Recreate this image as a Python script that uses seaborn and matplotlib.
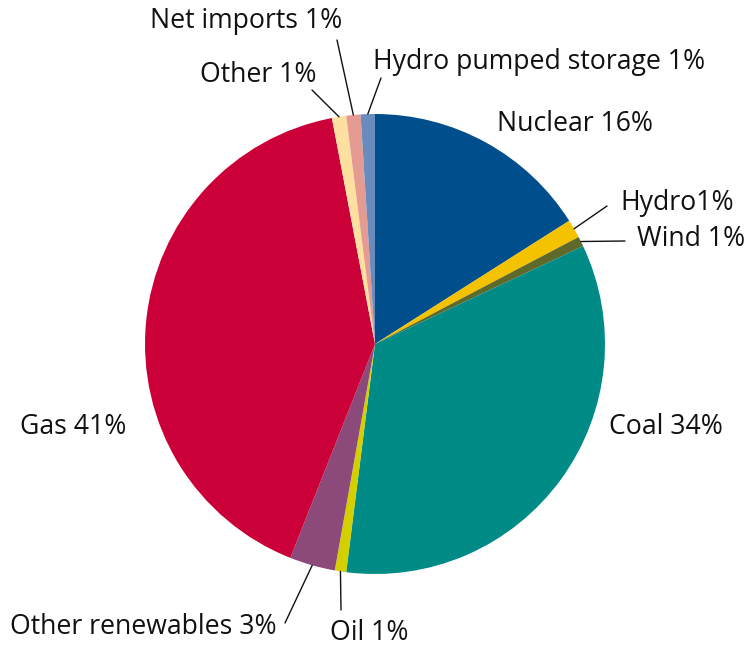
import numpy as np
import matplotlib
matplotlib.use("Agg")
import matplotlib.pyplot as plt
import seaborn as sns

# slice data, clockwise from 12 o'clock
sources = ["Nuclear", "Hydro", "Wind", "Coal", "Oil", "Other renewables",
           "Gas", "Other", "Net imports", "Hydro pumped storage"]
shares = [16.0, 1.3, 0.7, 34.0, 0.8, 3.2, 41.0, 1.0, 1.0, 1.0]
label_texts = ["Nuclear 16%", "Hydro1%", "Wind 1%", "Coal 34%", "Oil 1%",
               "Other renewables 3%", "Gas 41%", "Other 1%", "Net imports 1%",
               "Hydro pumped storage 1%"]
colors = ["#004f8c", "#f5c200", "#5f6a2a", "#008b87", "#d4d000",
          "#8b4a7a", "#cc0038", "#fde0a0", "#e59a92", "#6a8cbc"]

# label layout in pixel coords (x, y from top), alignment, leader end
W, H = 752, 648
layout = {
    "Nuclear": ((497, 124), "left", None),
    "Hydro": ((620, 203), "left", (607, 206)),
    "Wind": ((637, 239), "left", (625, 241)),
    "Coal": ((609, 427), "left", None),
    "Oil": ((330, 633), "left", (341, 610)),
    "Other renewables": ((277, 627), "right", (285, 623)),
    "Gas": ((20, 427), "left", None),
    "Other": ((316, 75), "right", (312, 90)),
    "Net imports": ((150, 21), "left", (337, 40)),
    "Hydro pumped storage": ((373, 62), "left", (381, 78)),
}

sns.set_theme(style="white")
plt.rcParams["font.family"] = ["Open Sans", "DejaVu Sans"]

fig = plt.figure(figsize=(W / 100, H / 100), dpi=100)
ax = fig.add_axes([0, 0, 1, 1])

center = (375, H - 344)
radius = 230
wedges, _ = ax.pie(shares, colors=colors, startangle=90, counterclock=False,
                   center=center, radius=radius,
                   wedgeprops=dict(linewidth=0))

ax.set_xlim(0, W)
ax.set_ylim(0, H)
ax.set_aspect("equal")
ax.axis("off")

for w, name, txt in zip(wedges, sources, label_texts):
    (tx, ty), ha, tip = layout[name]
    ax.text(tx, H - ty, txt, ha=ha, va="center", fontsize=19.2, color="#111111")
    if tip is not None:
        mid = np.deg2rad((w.theta1 + w.theta2) / 2)
        sx = center[0] + radius * np.cos(mid)
        sy = center[1] + radius * np.sin(mid)
        ax.plot([sx, tip[0]], [sy, H - tip[1]], color="#111111", lw=1)

fig.savefig("out.png", dpi=100)
plt.close(fig)
